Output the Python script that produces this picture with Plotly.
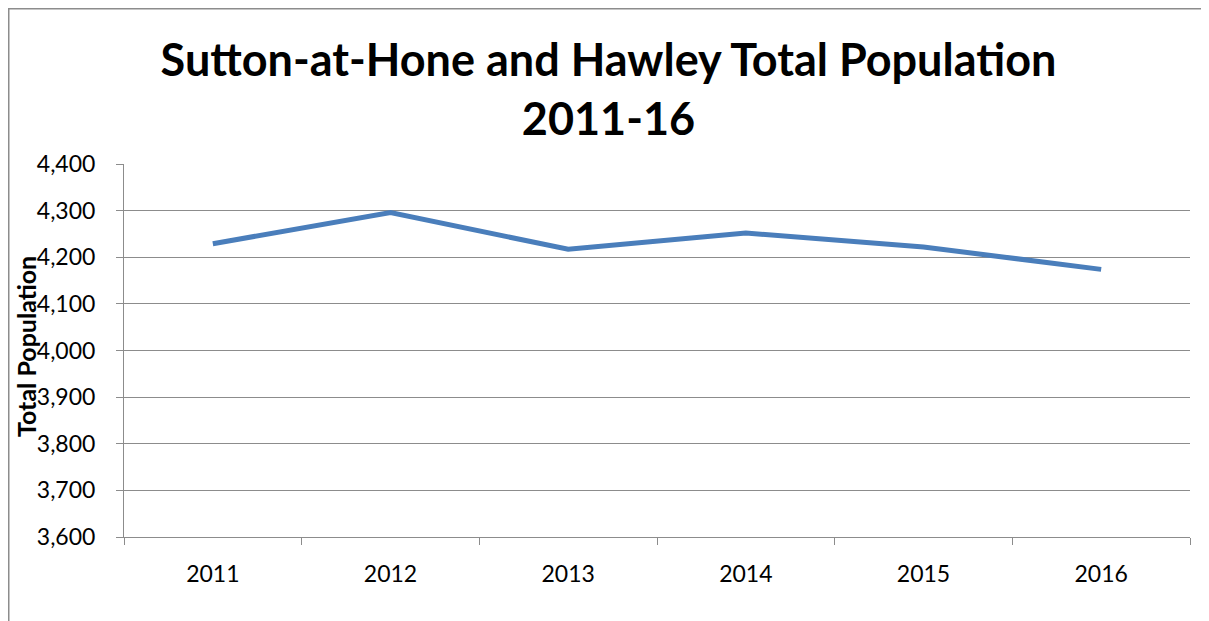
import plotly.graph_objects as go

# =========================
# DATA
# =========================
years = ["2011", "2012", "2013", "2014", "2015", "2016"]
population = [4229, 4296, 4217, 4252, 4222, 4174]

y_ticks = [3600, 3700, 3800, 3900, 4000, 4100, 4200, 4300, 4400]

# =========================
# STYLE
# =========================
FONT = "Lato, Carlito, Calibri, Arial"
LINE_COLOR = "#4A7EBB"
GRID_COLOR = "#8C8C8C"

# page body has an 8px margin, so the figure starts at (8, 8)
W, H = 1201, 613
M = dict(l=116, r=19, t=156, b=84)
PW = W - M["l"] - M["r"]
PH = H - M["t"] - M["b"]

fig = go.Figure()

fig.add_trace(go.Scatter(
    x=years,
    y=population,
    mode="lines",
    line=dict(color=LINE_COLOR, width=5),
    showlegend=False
))

fig.update_layout(
    width=W,
    height=H,
    margin=M,
    paper_bgcolor="white",
    plot_bgcolor="white",
    font=dict(family=FONT, size=23, color="black"),

    title=dict(
        text="<b>Sutton-at-Hone and Hawley Total Population<br>2011-16</b>",
        x=0.5, xanchor="center",
        y=1 - 68 / H, yanchor="middle",
        yref="container",
        font=dict(family=FONT, size=45, color="black")
    ),

    xaxis=dict(
        type="category",
        range=[-0.5, 5.5],
        showgrid=False,
        showline=True, linecolor=GRID_COLOR, linewidth=1,
        ticks="outside", tickson="boundaries", ticklen=7, tickcolor=GRID_COLOR,
        ticklabelstandoff=16,
        zeroline=False
    ),
    yaxis=dict(
        range=[3600, 4400],
        tickvals=y_ticks,
        tickformat=",d",
        showgrid=True, gridcolor=GRID_COLOR, gridwidth=1,
        showline=True, linecolor=GRID_COLOR, linewidth=1,
        ticks="outside", ticklen=7, tickcolor=GRID_COLOR,
        ticklabelstandoff=16,
        zeroline=False
    ),

    annotations=[
        dict(
            text="<b>Total Population</b>",
            textangle=-90,
            x=(18 - M["l"]) / PW, y=(H - M["b"] - 339) / PH,
            xref="paper", yref="paper",
            xanchor="center", yanchor="middle",
            showarrow=False,
            font=dict(family=FONT, size=25, color="black")
        )
    ],

    shapes=[
        dict(
            type="rect", xref="paper", yref="paper",
            x0=-M["l"] / PW, x1=1.2,
            y0=-0.5, y1=(H - M["b"]) / PH,
            line=dict(color=GRID_COLOR, width=3),
            fillcolor="rgba(0,0,0,0)",
            layer="below"
        )
    ]
)

fig.write_html("out.html")
